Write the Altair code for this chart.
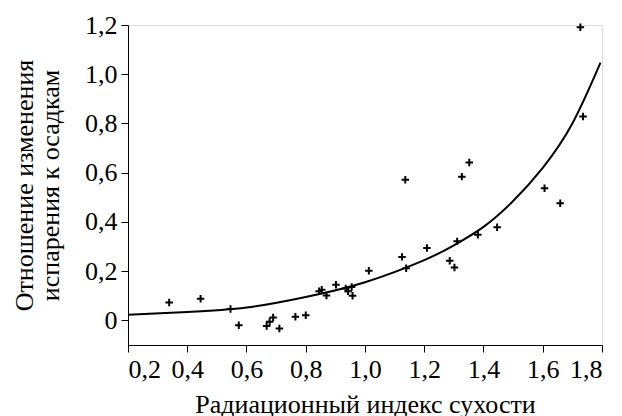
import altair as alt
import pandas as pd

# scatter points (radiation dryness index, ratio)
px = [0.339, 0.445, 0.546, 0.574, 0.668, 0.678, 0.690, 0.711, 0.765, 0.800,
      0.845, 0.854, 0.870, 0.902, 0.935, 0.943, 0.955, 0.958, 1.013, 1.125,
      1.139, 1.136, 1.209, 1.286, 1.302, 1.311, 1.327, 1.352, 1.381, 1.446,
      1.606, 1.659, 1.727, 1.736]
py = [0.073, 0.088, 0.046, -0.020, -0.023, -0.006, 0.012, -0.033, 0.015, 0.021,
      0.118, 0.124, 0.101, 0.145, 0.130, 0.118, 0.136, 0.100, 0.202, 0.258,
      0.212, 0.571, 0.294, 0.242, 0.215, 0.321, 0.584, 0.641, 0.348, 0.378,
      0.537, 0.476, 1.191, 0.828]

# fitted curve
cx = [0.2, 0.4, 0.6, 0.8, 1.0, 1.2, 1.3, 1.4, 1.5, 1.6, 1.7, 1.795]
cy = [0.023, 0.034, 0.052, 0.095, 0.155, 0.245, 0.305, 0.38, 0.485, 0.62, 0.80, 1.047]

xticks = [0.2, 0.4, 0.6, 0.8, 1.0, 1.2, 1.4, 1.6, 1.8]
yticks = [0, 0.2, 0.4, 0.6, 0.8, 1.0, 1.2]

pts = pd.DataFrame({"x": px, "y": py})
curve = pd.DataFrame({"x": cx, "y": cy})

FONT = "Liberation Serif"
lab = "datum.value == 0 ? '0' : replace(format(datum.value, '.1f'), '.', ',')"

axis_common = dict(labelExpr=lab, labelFont=FONT, labelFontSize=26, labelColor="black",
                   titleFont=FONT, titleFontSize=26, titleColor="black",
                   titleFontWeight="normal", grid=False, domainColor="black",
                   tickColor="black", domainWidth=1, tickWidth=1, tickSize=7,
                   labelPadding=4)

xenc = alt.X("x:Q", scale=alt.Scale(domain=[0.2, 1.8], nice=False, zero=False),
             axis=alt.Axis(values=xticks, title="Радиационный индекс сухости",
                           titleX=237, titleY=67, titleBaseline="alphabetic",
                           titleAnchor="middle", titleAlign="center", **axis_common))
yenc = alt.Y("y:Q", scale=alt.Scale(domain=[-0.1, 1.2], nice=False, zero=False),
             axis=alt.Axis(values=yticks,
                           title=["Отношение изменения", "испарения к осадкам"],
                           titleX=-96, titleY=160, titleAngle=-90,
                           titleBaseline="alphabetic", titleAlign="center",
                           titleLineHeight=26, **axis_common))

scatter = alt.Chart(pts).mark_point(
    shape="M-1,0L1,0M0,-1L0,1", size=56, strokeWidth=2, color="black", filled=False, opacity=1
).encode(x=xenc, y=yenc)

line = alt.Chart(curve).mark_line(color="black", strokeWidth=2, interpolate="natural").encode(
    x="x:Q", y="y:Q")

chart = (line + scatter).properties(
    width=474, height=320,
    autosize=alt.AutoSizeParams(type="none"),
    padding={"left": 120, "top": 17, "right": 12, "bottom": 71},
).configure_view(stroke=None).configure(font=FONT)

chart.save("out.html", embed_options={"renderer": "svg", "actions": False})
